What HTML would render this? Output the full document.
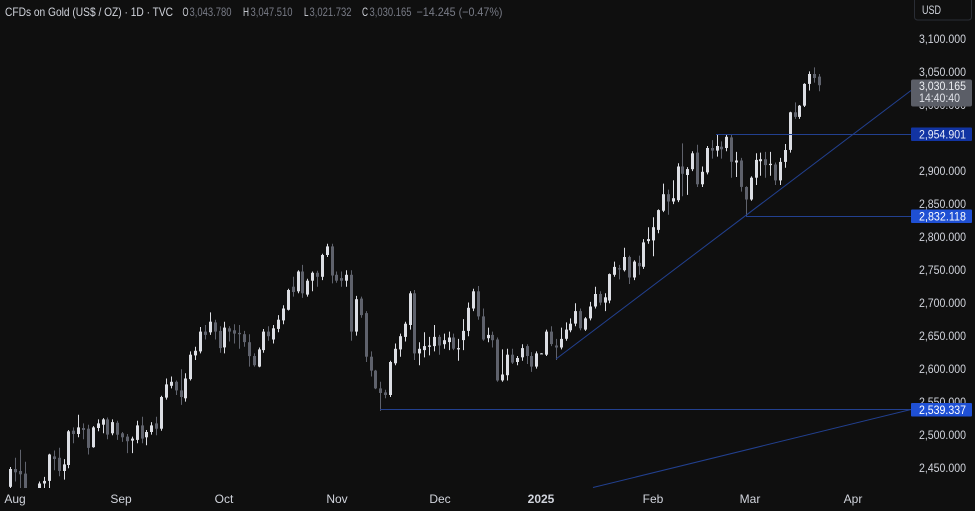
<!DOCTYPE html>
<html><head><meta charset="utf-8"><style>
html,body{margin:0;padding:0;background:#0f0f0f;width:975px;height:511px;overflow:hidden}
svg{display:block}
text{font-family:"Liberation Sans",sans-serif}
</style></head><body>
<svg id="s" width="975" height="511" viewBox="0 0 975 511" xmlns="http://www.w3.org/2000/svg">
<rect width="975" height="511" fill="#0f0f0f"/>
<defs><clipPath id="cp"><rect x="0" y="0" width="911" height="488"/></clipPath></defs>
<g id="candles" clip-path="url(#cp)"></g>
<g stroke="#22408f" stroke-width="1" fill="none">
<line x1="716" y1="134.5" x2="911" y2="134.5"/>
<line x1="746" y1="216.5" x2="911" y2="216.5"/>
<line x1="380" y1="409.5" x2="911" y2="409.5"/>
<line x1="556" y1="359" x2="911" y2="90.5"/>
<line x1="593" y1="487.5" x2="911" y2="409.5"/>
</g>
<g font-size="11.5" fill="#d1d4dc" text-anchor="end">
<text x="966" y="43" textLength="47" lengthAdjust="spacingAndGlyphs">3,100.000</text>
<text x="966" y="76" textLength="47" lengthAdjust="spacingAndGlyphs">3,050.000</text>
<text x="966" y="109" textLength="47" lengthAdjust="spacingAndGlyphs">3,000.000</text>
<text x="966" y="175" textLength="47" lengthAdjust="spacingAndGlyphs">2,900.000</text>
<text x="966" y="208" textLength="47" lengthAdjust="spacingAndGlyphs">2,850.000</text>
<text x="966" y="241" textLength="47" lengthAdjust="spacingAndGlyphs">2,800.000</text>
<text x="966" y="274" textLength="47" lengthAdjust="spacingAndGlyphs">2,750.000</text>
<text x="966" y="307" textLength="47" lengthAdjust="spacingAndGlyphs">2,700.000</text>
<text x="966" y="340" textLength="47" lengthAdjust="spacingAndGlyphs">2,650.000</text>
<text x="966" y="373" textLength="47" lengthAdjust="spacingAndGlyphs">2,600.000</text>
<text x="966" y="406" textLength="47" lengthAdjust="spacingAndGlyphs">2,550.000</text>
<text x="966" y="439" textLength="47" lengthAdjust="spacingAndGlyphs">2,500.000</text>
<text x="966" y="472" textLength="47" lengthAdjust="spacingAndGlyphs">2,450.000</text>
</g>
<rect x="911" y="79.5" width="61" height="27" rx="2" fill="#5b5e67"/>
<text x="966" y="90" font-size="11.5" fill="#eceef2" text-anchor="end" textLength="47" lengthAdjust="spacingAndGlyphs">3,030.165</text>
<text x="960" y="102" font-size="11.5" fill="#e0e2e8" text-anchor="end" textLength="41" lengthAdjust="spacingAndGlyphs">14:40:40</text>
<rect x="911" y="127.5" width="61" height="13.5" rx="1" fill="#1234a3"/>
<text x="966" y="138.5" font-size="11.5" fill="#e8ecf8" text-anchor="end" textLength="47" lengthAdjust="spacingAndGlyphs">2,954.901</text>
<rect x="911" y="209.5" width="61" height="13.5" rx="1" fill="#1f50d4"/>
<text x="966" y="220.5" font-size="11.5" fill="#ffffff" text-anchor="end" textLength="47" lengthAdjust="spacingAndGlyphs">2,832.118</text>
<rect x="911" y="403" width="61" height="13.5" rx="1" fill="#1f50d4"/>
<text x="966" y="414" font-size="11.5" fill="#ffffff" text-anchor="end" textLength="47" lengthAdjust="spacingAndGlyphs">2,539.337</text>
<rect x="914.5" y="-3" width="57" height="23" rx="3" fill="none" stroke="#2a2d35" stroke-width="1"/>
<text x="922" y="14" font-size="11.5" fill="#d1d4dc" textLength="19" lengthAdjust="spacingAndGlyphs">USD</text>
<g font-size="12" fill="#d1d4dc" text-anchor="middle">
<text x="15" y="503">Aug</text>
<text x="121" y="503">Sep</text>
<text x="224" y="503">Oct</text>
<text x="337" y="503">Nov</text>
<text x="440" y="503">Dec</text>
<text x="541" y="503" font-weight="bold">2025</text>
<text x="653" y="503">Feb</text>
<text x="750" y="503">Mar</text>
<text x="853" y="503">Apr</text>
</g>
<g font-size="12">
<text x="5" y="16" fill="#d1d4dc" textLength="168" lengthAdjust="spacingAndGlyphs">CFDs on Gold (US$ / OZ) · 1D · TVC</text>
<text x="182.5" y="16" fill="#d1d4dc" textLength="6" lengthAdjust="spacingAndGlyphs">O</text>
<text x="189.5" y="16" fill="#787b86" textLength="42" lengthAdjust="spacingAndGlyphs">3,043.780</text>
<text x="243" y="16" fill="#d1d4dc" textLength="6" lengthAdjust="spacingAndGlyphs">H</text>
<text x="250.5" y="16" fill="#787b86" textLength="42" lengthAdjust="spacingAndGlyphs">3,047.510</text>
<text x="304" y="16" fill="#d1d4dc" textLength="4.5" lengthAdjust="spacingAndGlyphs">L</text>
<text x="309.5" y="16" fill="#787b86" textLength="42" lengthAdjust="spacingAndGlyphs">3,021.732</text>
<text x="362" y="16" fill="#d1d4dc" textLength="6" lengthAdjust="spacingAndGlyphs">C</text>
<text x="369.5" y="16" fill="#787b86" textLength="42" lengthAdjust="spacingAndGlyphs">3,030.165</text>
<text x="416.5" y="16" fill="#787b86" textLength="86" lengthAdjust="spacingAndGlyphs">−14.245 (−0.47%)</text>
</g>
</svg>
<script>
var d=[
[2422,2452,2405,2449],[2449,2466,2430,2444],[2446,2478,2410,2441],[2442,2460,2364,2410],[2410,2418,2385,2390],[2390,2412,2370,2382],
[2382,2430,2378,2427],[2427,2437,2414,2431],[2431,2472,2420,2471],[2468,2477,2447,2464],[2466,2481,2438,2446],[2446,2464,2433,2456],
[2455,2508,2450,2506],[2507,2512,2488,2502],[2502,2531,2497,2512],[2511,2518,2494,2508],[2510,2516,2471,2481],[2482,2514,2481,2512],
[2511,2524,2506,2518],[2516,2526,2503,2524],[2524,2527,2494,2501],[2503,2524,2500,2520],[2519,2522,2493,2501],
[2503,2505,2490,2497],[2498,2502,2473,2491],[2492,2498,2473,2495],[2493,2522,2488,2515],[2515,2528,2488,2495],[2497,2508,2485,2505],
[2505,2520,2501,2515],[2518,2528,2500,2510],[2510,2560,2507,2558],[2557,2586,2554,2577],[2575,2589,2571,2581],[2581,2583,2561,2568],
[2568,2600,2546,2558],[2556,2594,2551,2586],[2585,2627,2583,2622],[2621,2634,2614,2628],[2627,2664,2624,2657],[2657,2667,2645,2652],
[2656,2686,2652,2672],[2671,2675,2645,2657],[2658,2665,2625,2632],
[2633,2672,2624,2663],[2662,2665,2642,2657],[2659,2668,2639,2654],[2655,2667,2631,2653],[2653,2658,2634,2641],[2641,2653,2604,2620],
[2620,2624,2604,2606],[2604,2633,2603,2630],[2629,2661,2625,2657],[2657,2665,2643,2650],[2645,2667,2639,2662],[2661,2682,2656,2675],
[2674,2697,2668,2692],[2690,2722,2689,2720],[2725,2740,2710,2717],[2718,2750,2715,2748],[2748,2758,2708,2715],[2713,2737,2710,2734],
[2734,2748,2718,2746],[2746,2749,2725,2740],[2740,2775,2735,2773],[2773,2790,2770,2786],[2786,2790,2730,2742],
[2743,2748,2731,2734],[2738,2748,2725,2734],[2734,2750,2725,2743],[2743,2750,2643,2657],[2657,2711,2651,2706],[2707,2710,2678,2682],
[2685,2688,2611,2619],[2619,2627,2589,2598],[2598,2599,2570,2571],[2571,2581,2537,2564],[2565,2569,2556,2561],[2561,2613,2558,2611],
[2609,2639,2606,2631],[2630,2654,2619,2650],[2649,2672,2642,2669],[2667,2718,2660,2715],[2715,2720,2614,2624],[2624,2641,2606,2631],
[2629,2656,2618,2635],[2634,2649,2621,2636],[2635,2667,2627,2649],
[2649,2652,2622,2636],[2638,2654,2631,2644],[2641,2657,2629,2648],[2648,2654,2629,2631],[2630,2646,2613,2632],[2644,2676,2629,2658],
[2658,2701,2650,2693],[2692,2722,2688,2718],[2718,2726,2675,2680],[2680,2692,2643,2645],[2647,2663,2641,2652],[2652,2657,2633,2644],
[2645,2648,2581,2583],[2583,2630,2581,2592],[2591,2631,2583,2622],[2622,2631,2608,2610],[2611,2620,2606,2617],[2618,2638,2613,2632],
[2635,2638,2608,2620],[2620,2626,2596,2604],[2604,2627,2601,2624],[2624,2624.5,2623.5,2624],
[2622,2660,2620,2657],[2657,2665,2635,2638],[2636,2646,2614,2633],[2633,2663,2630,2646],[2646,2671,2643,2660],[2659,2677,2656,2669],
[2669,2700,2665,2688],[2688,2692,2659,2662],[2660,2679,2658,2677],[2677,2702,2674,2695],[2695,2725,2692,2714],[2714,2718,2697,2701],
[2701,2715,2688,2709],[2704,2745,2700,2744],[2743,2763,2740,2755],[2753,2758,2736,2751],[2750,2784,2748,2770],[2770,2772,2729,2739],
[2739,2765,2735,2763],[2761,2772,2743,2756],[2755,2797,2752,2792],[2794,2815,2790,2797],
[2795,2830,2771,2815],[2811,2842,2806,2841],[2840,2881,2838,2865],[2865,2872,2834,2854],[2854,2886,2850,2859],[2856,2912,2853,2907],
[2907,2942,2862,2896],[2894,2906,2864,2903],[2903,2930,2900,2927],[2928,2940,2876,2880],[2880,2907,2876,2899],[2898,2938,2895,2935],
[2935,2947,2919,2931],[2931,2955,2922,2938],[2937,2945,2919,2933],[2935,2955,2930,2952],[2951,2955,2890,2914],[2913,2929,2891,2916],
[2916,2920,2869,2876],[2876,2877,2832,2857],
[2857,2892,2855,2890],[2890,2927,2879,2917],[2915,2928,2893,2918],[2918,2929,2890,2909],[2909,2929,2893,2911],[2910,2913,2879,2886],
[2886,2920,2879,2914],[2914,2941,2905,2932],[2932,2990,2928,2989],[2989,3004,2979,2982],[2982,3000,2979,2999],[2999,3033,2997,3032],
[3032,3051,3022,3047],[3047,3057,3034,3041],[3043,3047,3021,3030]
];
function Y(p){return 39+(3100-p)*0.6605;}
var g=document.getElementById('candles'),h='';
for(var i=0;i<d.length;i++){
 var o=d[i][0],hi=d[i][1],lo=d[i][2],c=d[i][3];
 var x=Math.round(10+i*4.873);
 var up=c>=o, col=up?'#dcdee4':'#5f626c';
 var yt=Y(Math.max(o,c)), yb=Y(Math.min(o,c));
 var bh=Math.max(1,yb-yt);
 h+='<line x1="'+(x+0.5)+'" y1="'+Y(hi).toFixed(1)+'" x2="'+(x+0.5)+'" y2="'+Y(lo).toFixed(1)+'" stroke="'+col+'" stroke-width="1"/>';
 h+='<rect x="'+(x-1)+'" y="'+yt.toFixed(1)+'" width="3" height="'+bh.toFixed(1)+'" fill="'+col+'"/>';
}
g.innerHTML=h;
</script>
</body></html>
